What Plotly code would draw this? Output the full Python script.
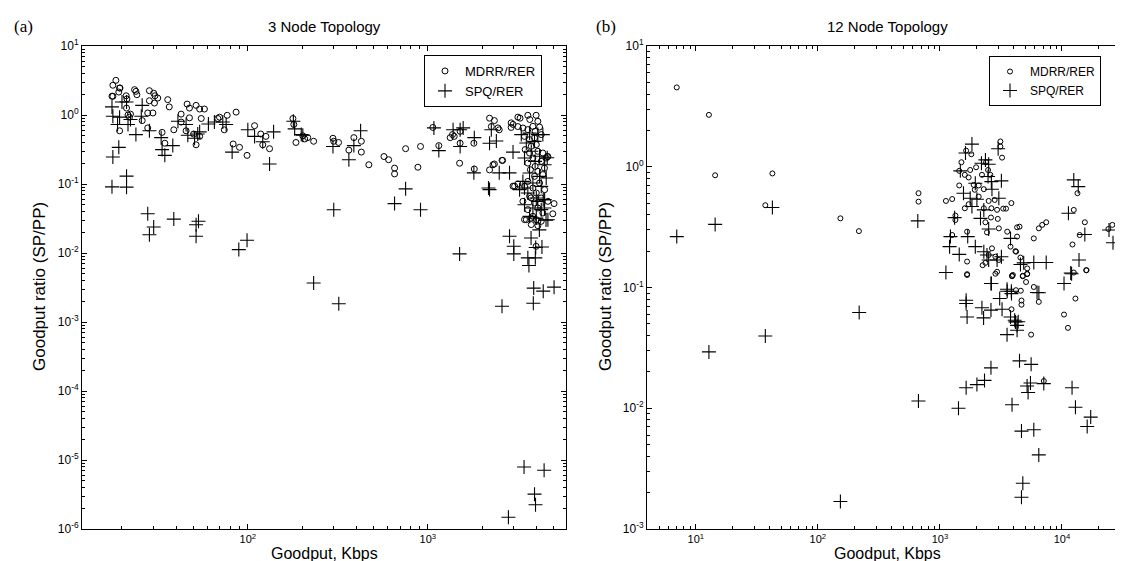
import plotly.graph_objects as go

# ---------------- data: (a) 3 Node Topology ----------------
a_mdrr_x = [18.5, 17.8, 19.4, 19.5, 19.2, 17.6, 17.8, 21.1, 21.3, 23.5, 23.9, 24.2, 21.2, 21.6, 22, 19.4, 22.3, 25.9,
            27.8, 28.4, 30.0, 30.5, 31.6, 28.4, 30.3, 29.7, 27.8, 35.9, 36.6, 33.4, 34.6, 38.8, 46, 47.4, 51.6, 54,
            57.4, 42.6, 47.4, 55.1, 42.6, 45.4, 51.6, 50, 54, 68.1, 69.6, 76.8, 74, 86.1, 82.9, 89.9, 99, 109, 118,
            121, 126, 132, 178, 180, 185, 207,
            202, 215, 232, 297, 300, 319, 364, 388, 427, 427, 470, 570, 605, 653, 653, 752, 880, 910, 1066, 1150,
            1330, 1400, 1510, 1500, 1510, 1800, 1810, 2200, 2340, 2250, 2450, 2490, 2300, 2200, 2580, 2900, 3160,
            3590, 3990, 2900, 2970, 3160, 3740, 3440, 3740, 4080, 4940, 4640, 4440, 3990,
            3250, 3680, 4080, 2970, 3160, 1370, 2340, 2600, 5020, 4600, 3030,
            3370, 3590, 3830, 3940, 4170, 4260, 3440, 3670, 3910, 3750, 4000, 3470, 3670, 4080, 4350, 3830, 3590,
            3940, 4260, 4540, 3710, 4080, 4350, 3910, 3590, 4170, 3440, 3830, 4450, 4000, 3670, 4260, 3370, 3910,
            4640, 4080, 3590, 4350, 3830, 3520, 4000, 4260, 3750, 4080]
a_mdrr_y = [3.18, 2.7, 2.46, 2.46, 2.15, 1.87, 1.87, 1.9, 1.71, 2.33, 2.2, 1.97, 1.26, 1.0, 0.93, 0.59, 1.03, 0.83,
            1.07, 2.25, 2.07, 1.9, 1.76, 1.61, 1.49, 1.07, 0.65, 1.67, 1.31, 0.56, 0.39, 0.61, 1.44, 1.26, 1.38, 1.22,
            1.22, 1.03, 0.91, 0.89, 0.79, 0.59, 0.37, 0.53, 0.49, 0.89, 0.93, 0.99, 0.61, 1.1, 0.38, 0.34, 0.26, 0.70,
            0.53, 0.37, 0.49, 0.325, 0.89, 0.73, 0.40, 0.45,
            0.50, 0.47, 0.416, 0.46, 0.416, 0.40, 0.31, 0.47, 0.416, 0.29, 0.19, 0.25, 0.225, 0.17, 0.14, 0.325, 0.175,
            0.35, 0.66, 0.36, 0.47, 0.49, 0.58, 0.2, 0.39, 0.39, 0.165, 0.9, 0.83, 0.68, 0.65, 0.61, 0.19, 0.16, 0.22,
            0.66, 0.93, 0.99, 0.99, 0.77, 0.093, 0.10, 0.063, 0.0305, 0.032, 0.029, 0.037, 0.25, 0.17, 0.0125,
            0.9, 0.86, 0.81, 0.73, 0.68, 0.52, 0.195, 0.22, 0.052, 0.25, 0.093,
            0.648, 0.614, 0.685, 0.58, 0.67, 0.52, 0.49, 0.44, 0.465, 0.352, 0.372, 0.315, 0.281, 0.298, 0.281, 0.238,
            0.201, 0.180, 0.213, 0.238, 0.161, 0.153, 0.137, 0.129, 0.109, 0.1035, 0.0925, 0.0875, 0.0828, 0.0741,
            0.0663, 0.0627, 0.0561, 0.0531, 0.0561, 0.0449, 0.0425, 0.038, 0.034, 0.0304, 0.0304, 0.0288, 0.0258,
            0.0249]

a_spq_x = [17.6, 17.8, 19.4, 20, 21.2, 18.9, 21.6, 22.3, 25.9, 25.6, 23.9, 28.4, 33, 33.4, 34.6, 38.3, 17.8, 19.2,
           17.6, 21.2, 21.2, 27.8, 28.4, 30, 38.8, 51.6, 53.2, 51.6, 89.1, 99, 40.9, 45.4, 46.4, 52.7, 50.6, 54, 60.4,
           65.2, 72.6, 75.8, 81.8, 100, 109, 121, 139, 132, 179, 182, 202,
           198, 297, 364, 423, 388, 300, 653, 752, 910, 1080, 1150, 1380, 1510, 1510, 1810, 1800, 2200, 1500, 2200,
           2490, 2840, 2970, 2250, 2400, 2840, 3000, 3000, 3590, 3950, 3640, 4300, 3970, 4530, 3740, 4160, 4440,
           4080, 4370,
           232, 320, 2580, 3870, 4370, 5020, 3850, 3420, 4420, 3910, 3960, 2800,
           1570, 2170, 3440, 4600,
           3300, 3670, 4080, 4350, 3520, 3910, 3750, 4170, 3440, 3940, 4450, 3670, 4170, 4540, 3370, 3830, 4260,
           3230, 3590, 4000, 4450, 3440, 3830, 4260, 4640, 3670, 4000]
a_spq_y = [1.31, 0.96, 0.93, 1.54, 1.54, 0.73, 0.73, 0.86, 1.38, 0.96, 0.52, 0.59, 0.47, 0.315, 0.26, 0.36, 0.246,
           0.34, 0.091, 0.13, 0.090, 0.037, 0.0184, 0.0238, 0.031, 0.0257, 0.0288, 0.0175, 0.0112, 0.0153, 0.81, 0.73,
           0.51, 0.53, 0.46, 0.57, 0.74, 0.79, 0.79, 0.73, 0.29, 0.61, 0.49, 0.41, 0.57, 0.195, 0.81, 0.63, 0.51,
           0.52, 0.35, 0.225, 0.59, 0.36, 0.0424, 0.052, 0.085, 0.0424, 0.65, 0.305, 0.61, 0.61, 0.35, 0.47, 0.145,
           0.083, 0.0097, 0.39, 0.145, 0.145, 0.29, 0.61, 0.42, 0.0175, 0.0125, 0.0097, 0.0085, 0.0085, 0.0066,
           0.0122, 0.012, 0.030, 0.0165, 0.0216, 0.045, 0.056, 0.059,
           0.00367, 0.00184, 0.00169, 0.0031, 0.0028, 0.0032, 0.00187, 7.9e-6, 7.1e-6, 3.2e-6, 2.25e-6, 1.48e-6,
           0.65, 0.0875, 0.0875, 0.24,
           0.52, 0.548, 0.52, 0.52, 0.393, 0.415, 0.298, 0.252, 0.238, 0.213, 0.19, 0.144, 0.129, 0.122, 0.109,
           0.1035, 0.0925, 0.0828, 0.0741, 0.0627, 0.0593, 0.0501, 0.0449, 0.0425, 0.0304, 0.034, 0.0321]

# ---------------- data: (b) 12 Node Topology ----------------
b_mdrr_x = [6.98, 12.8, 14.4, 42.4, 37.1, 153, 217, 7100,
            1670, 2850, 3900, 4780, 5180, 5080, 5880, 6460, 4200, 4600, 4660, 4660, 3860, 5590, 10400, 11200, 12900,
            15900, 12500,
            3130, 3130, 3230, 1640, 1810, 1500, 2390, 1770, 1980, 1440, 1600, 1720, 2210, 2480, 2590, 1890, 2080,
            2290, 1440, 1930, 2080, 2510, 2810, 668, 668, 1120, 1260, 1600, 1720, 2290, 2640, 2940, 3300, 3480, 3850,
            2620, 2980, 2360, 3560, 3040, 2430, 1340, 1340, 1670, 1260, 2670, 2510, 2850, 3040, 2240, 2360, 2940,
            1670, 1670, 3790, 4160, 4290, 3960,
            4490, 6470, 6890, 7430, 5880, 4290, 4210, 4570, 5190, 3900, 4770, 5190, 12200, 15400, 13970, 15800,
            13400, 12500, 25900, 24000]
b_mdrr_y = [4.54, 2.69, 0.85, 0.88, 0.48, 0.374, 0.293, 0.0168,
            0.129, 0.13, 0.125, 0.125, 0.129, 0.111, 0.101, 0.076, 0.095, 0.094, 0.078, 0.072, 0.066, 0.0407, 0.0597,
            0.0463, 0.081, 0.139, 0.133,
            1.62, 1.47, 1.19, 1.36, 1.27, 1.09, 1.09, 0.94, 0.99, 0.925, 0.857, 0.815, 0.857, 0.94, 0.857, 0.708, 0.70,
            0.652, 0.70, 0.645, 0.566, 0.521, 0.531, 0.604, 0.514, 0.521, 0.54, 0.453, 0.489, 0.453, 0.453, 0.44,
            0.45, 0.45, 0.5, 0.38, 0.37, 0.347, 0.29, 0.309, 0.286, 0.394, 0.362, 0.29, 0.272, 0.211, 0.186, 0.18,
            0.169, 0.153, 0.16, 0.135, 0.164, 0.127, 0.218, 0.2, 0.315, 0.127,
            0.319, 0.309, 0.33, 0.347, 0.255, 0.264, 0.198, 0.177, 0.144, 0.124, 0.124, 0.13, 0.227, 0.347, 0.272,
            0.139, 0.604, 0.439, 0.33, 0.305]

b_spq_x = [6.98, 14.4, 42.4, 12.8, 37.1, 218, 153, 667, 1420, 1640, 2010, 2320, 2620, 3900, 4490, 5590, 5180, 5280,
           5520, 7100, 4660, 5880, 6460, 4780, 4660, 12100, 12900, 17200, 16100, 1640, 1640, 1670, 2210, 2280, 2620,
           2620, 3090, 3230, 3550, 3860, 3790, 4160, 4290, 4290, 3550, 6250, 10400, 1120, 12000,
           1830, 3000, 1620, 2360, 2190, 2510, 2480, 1470, 1950, 2640, 3190, 1560, 1770, 2010, 3040, 2670, 1830, 2290,
           2150, 2510, 1320, 659, 1220, 1200, 1690, 1440, 1950, 2290, 2430, 2510, 2940, 3190, 2640, 3560, 3850,
           12500, 13600, 11300, 15400, 24300, 26200, 13800, 11800, 7430, 5880, 4860, 4570, 6470, 4100, 4380, 3790]
b_spq_y = [0.264, 0.333, 0.46, 0.0293, 0.0397, 0.062, 0.00169, 0.01148, 0.01, 0.0148, 0.0157, 0.017, 0.0216, 0.0107,
           0.0247, 0.0231, 0.0153, 0.0135, 0.0162, 0.016, 0.00647, 0.00664, 0.00411, 0.00239, 0.00183, 0.0148, 0.0102,
           0.00845, 0.00706, 0.0785, 0.0737, 0.057, 0.068, 0.056, 0.065, 0.108, 0.081, 0.066, 0.0968, 0.089, 0.057,
           0.0519, 0.0486, 0.0442, 0.0407, 0.091, 0.108, 0.133, 0.13,
           1.54, 1.41, 1.30, 1.14, 1.07, 1.05, 0.83, 0.925, 0.73, 0.753, 0.764, 0.604, 0.548, 0.538, 0.548, 0.652,
           0.468, 0.439, 0.374, 0.305, 0.379, 0.356, 0.264, 0.218, 0.264, 0.188, 0.218, 0.198, 0.186, 0.169, 0.169,
           0.18, 0.108, 0.093, 0.093,
           0.778, 0.685, 0.412, 0.275, 0.299, 0.235, 0.169, 0.132, 0.161, 0.161, 0.16, 0.155, 0.0904, 0.0536, 0.052,
           0.255]

series_names = ["MDRR/RER", "SPQ/RER"]
titles = ["3 Node Topology", "12 Node Topology"]
panel_tags = ["(a)", "(b)"]
x_title = "Goodput, Kbps"
y_title = "Goodput ratio (SP/PP)"

a_xticks = [100, 1000]
a_xticktext = ["10<sup>2</sup>", "10<sup>3</sup>"]
a_yticks = [10, 1, 0.1, 0.01, 0.001, 1e-4, 1e-5, 1e-6]
a_yticktext = ["10<sup>1</sup>", "10<sup>0</sup>", "10<sup>-1</sup>", "10<sup>-2</sup>", "10<sup>-3</sup>",
               "10<sup>-4</sup>", "10<sup>-5</sup>", "10<sup>-6</sup>"]
b_xticks = [10, 100, 1000, 10000]
b_xticktext = ["10<sup>1</sup>", "10<sup>2</sup>", "10<sup>3</sup>", "10<sup>4</sup>"]
b_yticks = [10, 1, 0.1, 0.01, 0.001]
b_yticktext = ["10<sup>1</sup>", "10<sup>0</sup>", "10<sup>-1</sup>", "10<sup>-2</sup>", "10<sup>-3</sup>"]

W, H = 1123, 561
FONT = "Liberation Sans, Arial, sans-serif"

fig = go.Figure()

circ_a = dict(symbol="circle-open", size=6, color="black", line=dict(width=1, color="black"))
plus_a = dict(symbol="cross-thin-open", size=10, color="black", line=dict(width=1.1, color="black"))
circ_b = dict(symbol="circle-open", size=5, color="black", line=dict(width=1, color="black"))
plus_b = dict(symbol="cross-thin-open", size=10, color="black", line=dict(width=1.1, color="black"))

fig.add_trace(go.Scatter(x=a_mdrr_x, y=a_mdrr_y, mode="markers", marker=circ_a, name=series_names[0],
                         xaxis="x", yaxis="y", legend="legend"))
fig.add_trace(go.Scatter(x=a_spq_x, y=a_spq_y, mode="markers", marker=plus_a, name=series_names[1],
                         xaxis="x", yaxis="y", legend="legend"))
fig.add_trace(go.Scatter(x=b_mdrr_x, y=b_mdrr_y, mode="markers", marker=circ_b, name=series_names[0],
                         xaxis="x2", yaxis="y2", legend="legend2"))
fig.add_trace(go.Scatter(x=b_spq_x, y=b_spq_y, mode="markers", marker=plus_b, name=series_names[1],
                         xaxis="x2", yaxis="y2", legend="legend2"))

def axis_common(fsize=12):
    return dict(type="log", showgrid=False, zeroline=False, showline=True, linecolor="black", linewidth=1,
                mirror="allticks", ticks="inside", ticklen=5, tickcolor="black", tickmode="array",
                tickfont=dict(family=FONT, size=fsize, color="black"),
                minor=dict(ticks="inside", ticklen=3, tickcolor="black", dtick="D1", showgrid=False),
                automargin=False)

# pixel-derived domains
ax_l = [74 / W, 558 / W]
ax_r = [639 / W, 1119 / W]
ydom = [1 - 521 / H, 1 - 38 / H]

fig.update_layout(
    width=W, height=H, margin=dict(l=0, r=0, t=0, b=0),
    paper_bgcolor="white", plot_bgcolor="white",
    font=dict(family=FONT, color="black"),
    xaxis=dict(axis_common(11), domain=ax_l, range=[1.079, 3.767], tickvals=a_xticks, ticktext=a_xticktext,
               anchor="y"),
    yaxis=dict(axis_common(12), domain=ydom, range=[-6, 1], tickvals=a_yticks, ticktext=a_yticktext, anchor="x"),
    xaxis2=dict(axis_common(11), domain=ax_r, range=[0.600, 4.533], tickvals=b_xticks, ticktext=b_xticktext,
                anchor="y2"),
    yaxis2=dict(axis_common(12), domain=ydom, range=[-3, 1], tickvals=b_yticks, ticktext=b_yticktext,
                anchor="x2"),
    legend=dict(x=416 / W, y=1 - 47 / H, xanchor="left", yanchor="top", bordercolor="black", borderwidth=1,
                bgcolor="white", font=dict(family=FONT, size=13, color="black"), tracegroupgap=0,
                itemwidth=30),
    legend2=dict(x=981 / W, y=1 - 48 / H, xanchor="left", yanchor="top", bordercolor="black", borderwidth=1,
                 bgcolor="white", font=dict(family=FONT, size=12, color="black"), tracegroupgap=0,
                 itemwidth=30),
)

ann = []
ann.append(dict(x=(74 + 558) / 2 / W, y=1 - 18 / H, text=titles[0], showarrow=False, xref="paper", yref="paper",
                font=dict(family=FONT, size=15, color="black"), xanchor="center", yanchor="middle"))
ann.append(dict(x=(639 + 1119) / 2 / W, y=1 - 18 / H, text=titles[1], showarrow=False, xref="paper",
                yref="paper", font=dict(family=FONT, size=15, color="black"), xanchor="center", yanchor="middle"))
ann.append(dict(x=4 / W, y=1 - 18 / H, text=panel_tags[0], showarrow=False, xref="paper", yref="paper",
                font=dict(family="Liberation Serif, serif", size=17, color="black"), xanchor="left",
                yanchor="middle"))
ann.append(dict(x=586 / W, y=1 - 18 / H, text=panel_tags[1], showarrow=False, xref="paper", yref="paper",
                font=dict(family="Liberation Serif, serif", size=17, color="black"), xanchor="left",
                yanchor="middle"))
for cx in [(74 + 558) / 2, (639 + 1119) / 2]:
    ann.append(dict(x=cx / W, y=1 - 545 / H, text=x_title, showarrow=False, xref="paper", yref="paper",
                    font=dict(family=FONT, size=16, color="black"), xanchor="center", yanchor="middle"))
for cx in [31, 597]:
    ann.append(dict(x=cx / W, y=1 - 279 / H, text=y_title, showarrow=False, xref="paper", yref="paper",
                    textangle=-90, font=dict(family=FONT, size=17, color="black"), xanchor="center",
                    yanchor="middle"))
fig.update_layout(annotations=ann)

fig.write_html("out.html")
